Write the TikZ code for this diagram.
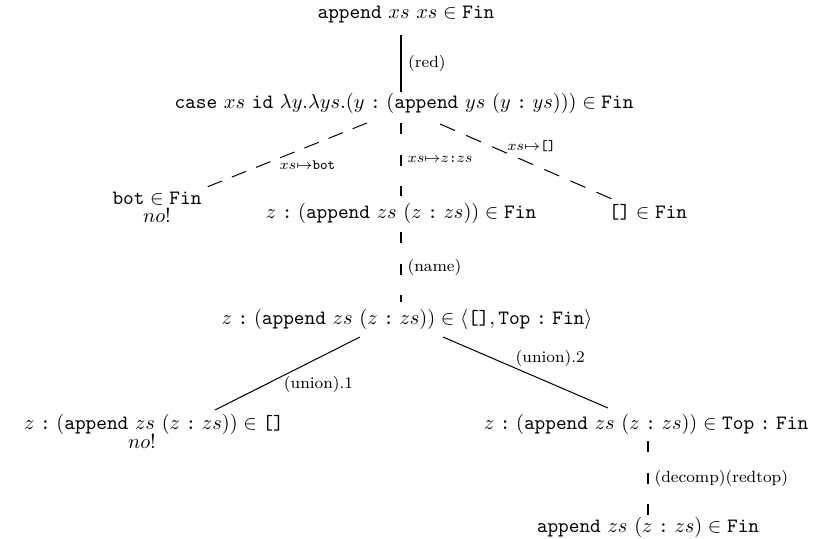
\documentclass[tikz,border=0pt]{standalone}
\usepackage{amsmath}
\newcommand{\tcol}{\mathrel{\texttt{:}}}
\newcommand{\tnil}{\texttt{[]}}
\begin{document}
\begin{tikzpicture}[x=0.492pt,y=-0.492pt,
  term/.style={anchor=base,inner sep=0pt,font=\normalsize},
  lab/.style={font=\footnotesize,inner sep=1pt},
  slab/.style={font=\scriptsize,inner sep=1pt},
  vdash/.style={line width=0.5pt,dash pattern=on 5.5pt off 10pt},
  ddash/.style={line width=0.5pt,dash pattern=on 8pt off 6pt},
  ddashb/.style={line width=0.5pt,dash pattern=on 7.6pt off 5.2pt},
  solidline/.style={line width=0.5pt},
  thickline/.style={line width=1.1pt}]
\useasboundingbox (0,0) rectangle (819,539);
% terms
\node[term] (t0) at (406,19) {$\mathtt{append}\ xs\ xs \in \mathtt{Fin}$};
\node[term] (t1) at (404,108) {$\mathtt{case}\ xs\ \mathtt{id}\ \lambda y.\lambda ys.(y \tcol (\mathtt{append}\ ys\ (y \tcol ys))) \in \mathtt{Fin}$};
\node[term] (t2) at (157,205) {$\mathtt{bot} \in \mathtt{Fin}$};
\node[term] (t2n) at (157,223) {$no!$};
\node[term] (t3) at (401,218) {$z \tcol (\mathtt{append}\ zs\ (z \tcol zs)) \in \mathtt{Fin}$};
\node[term] (t4) at (648,218) {$\tnil \in \mathtt{Fin}$};
\node[term] (t5) at (407,324) {$z \tcol (\mathtt{append}\ zs\ (z \tcol zs)) \in \langle \tnil, \mathtt{Top} \tcol \mathtt{Fin}\rangle$};
\node[term] (t6) at (154,429) {$z \tcol (\mathtt{append}\ zs\ (z \tcol zs)) \in \tnil$};
\node[term] (t6n) at (142,448) {$no!$};
\node[term] (t7) at (646,429) {$z \tcol (\mathtt{append}\ zs\ (z \tcol zs)) \in \mathtt{Top} \tcol \mathtt{Fin}$};
\node[term] (t8) at (648,532) {$\mathtt{append}\ zs\ (z \tcol zs) \in \mathtt{Fin}$};
% connector end points
\coordinate (a0) at (401,35);  \coordinate (a1) at (401,92);
\coordinate (b0) at (367,123); \coordinate (b1) at (207,187);
\coordinate (c0) at (401,123); \coordinate (c1) at (401,196);
\coordinate (d0) at (440,124); \coordinate (d1) at (612,199);
\coordinate (e0) at (401,232); \coordinate (e1) at (401,302);
\coordinate (f0) at (360,337); \coordinate (f1) at (215,410);
\coordinate (g0) at (443,337); \coordinate (g1) at (608,408);
\coordinate (h0) at (648,441); \coordinate (h1) at (648,516);
% connectors
\draw[thickline] (a0) -- (a1) node[lab,midway,anchor=west,xshift=2pt] {(red)};
\draw[ddashb] (b0) -- (b1) node[slab,pos=0.55,anchor=north west,xshift=-1pt] {$xs{\mapsto}\mathtt{bot}$};
\draw[vdash] (c0) -- (c1) node[slab,pos=0.5,anchor=west,xshift=2pt] {$xs{\mapsto}z{\texttt{:}}zs$};
\draw[ddash] (d0) -- (d1) node[slab,pos=0.4,anchor=south west,xshift=-2pt] {$xs{\mapsto}\tnil$};
\draw[vdash] (e0) -- (e1) node[lab,midway,anchor=west,xshift=2pt] {(name)};
\draw[solidline] (f0) -- (f1) node[lab,pos=0.5,anchor=north west,xshift=-3pt] {(union).1};
\draw[solidline] (g0) -- (g1) node[lab,pos=0.45,anchor=south west,xshift=-2pt] {(union).2};
\draw[vdash] (h0) -- (h1) node[lab,midway,anchor=west,xshift=2pt] {(decomp)(redtop)};
\end{tikzpicture}
\end{document}
